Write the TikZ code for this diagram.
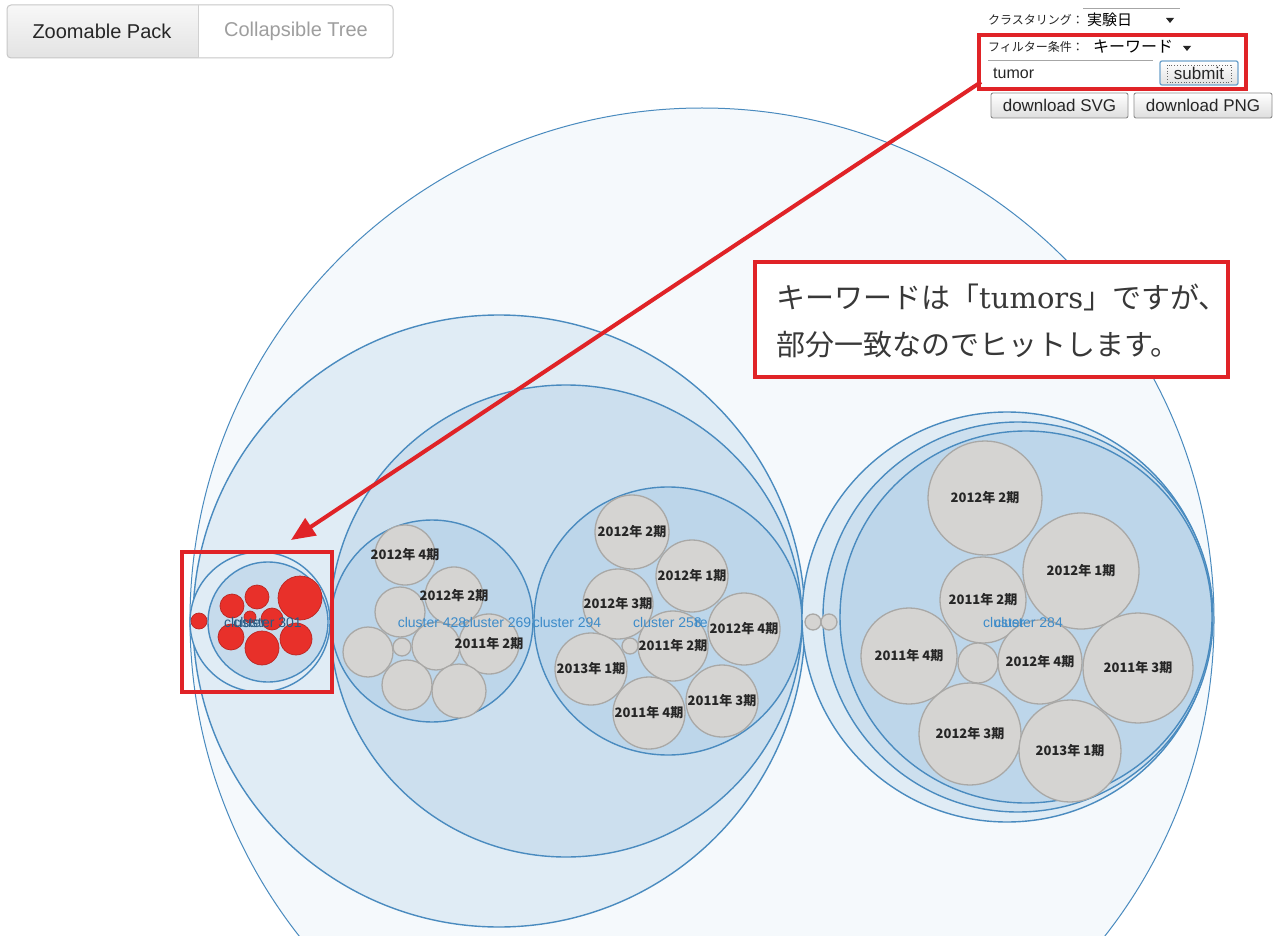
\documentclass[tikz,border=0pt]{standalone}
\usepackage{fontspec}
\setmainfont{Liberation Sans}
\newfontfamily\jp{Noto Sans CJK JP}
\newfontfamily\lat{DejaVu Serif}
\usetikzlibrary{arrows.meta,calc}

\definecolor{ringline}{HTML}{4A8BBF}
\definecolor{fillA}{HTML}{F5F9FC}
\definecolor{fillB}{HTML}{E0ECF5}
\definecolor{fillC}{HTML}{CCDFEE}
\definecolor{fillD}{HTML}{BDD6EA}
\definecolor{greyfill}{HTML}{D5D4D2}
\definecolor{greyline}{HTML}{A9A8A6}
\definecolor{hit}{HTML}{E8302A}
\definecolor{redmark}{HTML}{E02327}
\definecolor{lbl}{HTML}{3D8BC9}

\tikzset{
  ring/.style={circle, draw=ringline, line width=1.4pt, inner sep=0pt},
  leaf/.style={circle, draw=greyline, fill=greyfill, line width=1.3pt, inner sep=0pt},
  hitc/.style={circle, draw=hit!80!black, fill=hit, line width=0.7pt, inner sep=0pt},
  yr/.style={font=\jp\bfseries\fontsize{13pt}{14pt}\selectfont, text=black!85, inner sep=0pt},
  cl/.style={font=\fontsize{14pt}{15pt}\selectfont, text=lbl, inner sep=0pt},
  markbox/.style={draw=redmark, line width=3.5pt, inner sep=0pt},
  ui/.style={inner sep=0pt, text=black!85},
  dlbtn/.style={draw=black!45, line width=0.9pt, rounded corners=2pt, top color=white, bottom color=black!13,
    minimum height=25pt, inner sep=0pt, font=\fontsize{17pt}{18pt}\selectfont, text=black!85},
}

\begin{document}
\begin{tikzpicture}[x=1pt,y=-1pt]
\useasboundingbox (0,0) rectangle (1280,936);
\fill[white] (0,0) rectangle (1280,936);
\clip (0,0) rectangle (1280,936);

% ---- packed circles ----
\node[ring, fill=fillA, line width=1pt, minimum size=1024pt] (root) at (702,620) {};
\node[ring, fill=fillB, minimum size=612pt] (c269) at (499,621) {};
\node[ring, fill=fillC, minimum size=472pt] (c294) at (566,621) {};
\node[ring, fill=fillD, minimum size=202pt] (c428) at (432,621) {};
\node[ring, fill=fillD, minimum size=268pt] (c25) at (668,621) {};

% cluster with the keyword hits
\node[ring, fill=fillB, minimum size=140pt] (c301o) at (260,622) {};
\node[ring, fill=fillC!60!fillD, minimum size=120pt] (c301) at (268,622) {};

% right-hand cluster
\node[ring, fill=fillB, minimum size=410pt] (r1) at (1007,617) {};
\node[ring, fill=fillC, minimum size=390pt] (r2) at (1018,617) {};
\node[ring, fill=fillD, minimum size=372pt] (c284) at (1026,617) {};
\node[leaf, minimum size=16pt] (s1) at (813,622) {};
\node[leaf, minimum size=16pt] (s2) at (829,622) {};

% leaves of cluster 428
\node[leaf, minimum size=60pt] (a1) at (405,555) {};
\node[leaf, minimum size=58pt] (a2) at (454,596) {};
\node[leaf, minimum size=50pt] (a3) at (400,612) {};
\node[leaf, minimum size=50pt] (a4) at (368,652) {};
\node[leaf, minimum size=18pt] (a5) at (402,647) {};
\node[leaf, minimum size=48pt] (a6) at (436,646) {};
\node[leaf, minimum size=60pt] (a7) at (489,644) {};
\node[leaf, minimum size=50pt] (a8) at (407,685) {};
\node[leaf, minimum size=54pt] (a9) at (459,691) {};
\node[yr] (ta1) at (a1) {2012年 4期};
\node[yr] (ta2) at (a2) {2012年 2期};
\node[yr] (ta7) at (a7) {2011年 2期};

% leaves of the middle cluster
\node[leaf, minimum size=74pt] (b1) at (632,532) {};
\node[leaf, minimum size=72pt] (b2) at (692,576) {};
\node[leaf, minimum size=70pt] (b3) at (618,604) {};
\node[leaf, minimum size=72pt] (b4) at (744,629) {};
\node[leaf, minimum size=70pt] (b5) at (673,646) {};
\node[leaf, minimum size=16pt] (b6) at (630,646) {};
\node[leaf, minimum size=72pt] (b7) at (591,669) {};
\node[leaf, minimum size=72pt] (b8) at (649,713) {};
\node[leaf, minimum size=72pt] (b9) at (722,701) {};
\node[yr] (tb1) at (b1) {2012年 2期};
\node[yr] (tb2) at (b2) {2012年 1期};
\node[yr] (tb3) at (b3) {2012年 3期};
\node[yr] (tb4) at (b4) {2012年 4期};
\node[yr] (tb5) at (b5) {2011年 2期};
\node[yr] (tb7) at (b7) {2013年 1期};
\node[yr] (tb8) at (b8) {2011年 4期};
\node[yr] (tb9) at (b9) {2011年 3期};

% leaves of cluster 284
\node[leaf, minimum size=114pt] (d1) at (985,498) {};
\node[leaf, minimum size=116pt] (d2) at (1081,571) {};
\node[leaf, minimum size=86pt] (d3) at (983,600) {};
\node[leaf, minimum size=96pt] (d4) at (909,656) {};
\node[leaf, minimum size=40pt] (d5) at (978,663) {};
\node[leaf, minimum size=84pt] (d6) at (1040,662) {};
\node[leaf, minimum size=110pt] (d7) at (1138,668) {};
\node[leaf, minimum size=102pt] (d8) at (970,734) {};
\node[leaf, minimum size=102pt] (d9) at (1070,751) {};
\node[yr] (td1) at (d1) {2012年 2期};
\node[yr] (td2) at (d2) {2012年 1期};
\node[yr] (td3) at (d3) {2011年 2期};
\node[yr] (td4) at (d4) {2011年 4期};
\node[yr] (td6) at (d6) {2012年 4期};
\node[yr] (td7) at (d7) {2011年 3期};
\node[yr] (td8) at (d8) {2012年 3期};
\node[yr] (td9) at (d9) {2013年 1期};

% hits
\node[hitc, minimum size=16pt] (e1) at (199,621) {};
\node[hitc, minimum size=24pt] (e2) at (232,606) {};
\node[hitc, minimum size=24pt] (e3) at (257,597) {};
\node[hitc, minimum size=44pt] (e4) at (300,598) {};
\node[hitc, minimum size=12pt] (e5) at (250,617) {};
\node[hitc, minimum size=22pt] (e6) at (272,619) {};
\node[hitc, minimum size=26pt] (e7) at (231,637) {};
\node[hitc, minimum size=34pt] (e8) at (262,648) {};
\node[hitc, minimum size=32pt] (e9) at (296,639) {};

% cluster labels (several are printed on top of each other)
\node[cl] (l428) at (432,622) {cluster 428};
\node[cl] (l269) at (497,622) {cluster 269};
\node[cl] (l294) at (567,622) {cluster 294};
\node[cl, anchor=west] (l25) at (633,622) {cluster 2\rlap{58}\kern9pt re};
\node[cl, text=lbl!65!black, anchor=east] (l301a) at (302,622) {cluster 301};
\node[cl, text=lbl!65!black, anchor=west] (l301b) at (224,622) {cluster};
\node[cl, anchor=east] (l284a) at (1063,622) {cluster 284};
\node[cl, anchor=west] (l284b) at (983,622) {cluster};

% ---- view switch buttons ----
\begin{scope}
  \clip (7,5) rectangle (198,58);
  \shade[top color=black!3, bottom color=black!11, rounded corners=4pt] (7,5) rectangle (230,58);
\end{scope}
\draw[black!22, line width=1pt, rounded corners=4pt] (7,5) rectangle (393,58);
\draw[black!18, line width=1pt] (198,5) -- (198,58);
\node[ui, font=\fontsize{20pt}{22pt}\selectfont, text=black!85] (zp) at (102,31) {Zoomable Pack};
\node[ui, font=\fontsize{20pt}{22pt}\selectfont, text=black!38] (ct) at (296,31) {Collapsible Tree};

% ---- controls ----
\draw[black!35, line width=0.8pt] (1083,8) -- (1180,8);
\node[ui, anchor=west, font=\jp\fontsize{12pt}{13pt}\selectfont] (clab) at (988,20) {クラスタリング：};
\node[ui, anchor=west, font=\jp\fontsize{15pt}{16pt}\selectfont, text=black] (csel) at (1087,20) {実験日};
\fill[black!85] (1166,18) -- (1174,18) -- (1170,23) -- cycle;
\node[ui, anchor=west, font=\jp\fontsize{12pt}{13pt}\selectfont] (flab) at (988,47) {フィルター条件：};
\node[ui, anchor=west, font=\jp\fontsize{16pt}{17pt}\selectfont, text=black] (fsel) at (1093,47) {キーワード};
\fill[black!85] (1183,46) -- (1191,46) -- (1187,51) -- cycle;
\draw[black!35, line width=0.8pt] (988,60) -- (1153,60);
\node[ui, anchor=west, font=\fontsize{16pt}{17pt}\selectfont] (kw) at (993,73) {tumor};
\node[draw=ringline!80, line width=1.3pt, rounded corners=2pt, top color=white, bottom color=black!12,
      minimum width=78pt, minimum height=24pt, inner sep=0pt] (submit) at (1199,73) {};
\draw[black!60, dotted, line width=0.8pt] (1167,65) rectangle (1231,82);
\node[ui, font=\fontsize{17pt}{18pt}\selectfont] (subt) at (1199,73) {submit};
\node[dlbtn, minimum width=137pt] (svg) at (1059.5,105.5) {download SVG};
\node[dlbtn, minimum width=138pt] (png) at (1203,105.5) {download PNG};

% ---- annotations ----
\node[markbox, minimum width=267pt, minimum height=54pt] (fbox) at (1112.5,62) {};
\node[markbox, minimum width=150pt, minimum height=140pt] (rbox) at (257,622) {};
\node[markbox, fill=white, minimum width=473pt, minimum height=115pt] (note) at (991.5,319.5) {};
\node[ui, anchor=west, text=black!78, font=\jp\fontsize{29pt}{30pt}\selectfont] (note1) at (776,297)
  {キーワードは「{\lat tumors}」ですが、};
\node[ui, anchor=west, text=black!78, font=\jp\fontsize{29pt}{30pt}\selectfont] (note2) at (776,345)
  {部分一致なのでヒットします。};

\coordinate (src) at (981,82);
\coordinate (tip) at (291,540);
\draw[redmark, line width=4pt, -{Triangle[length=24pt,width=20pt]}] (src) -- (tip);
\end{tikzpicture}
\end{document}
